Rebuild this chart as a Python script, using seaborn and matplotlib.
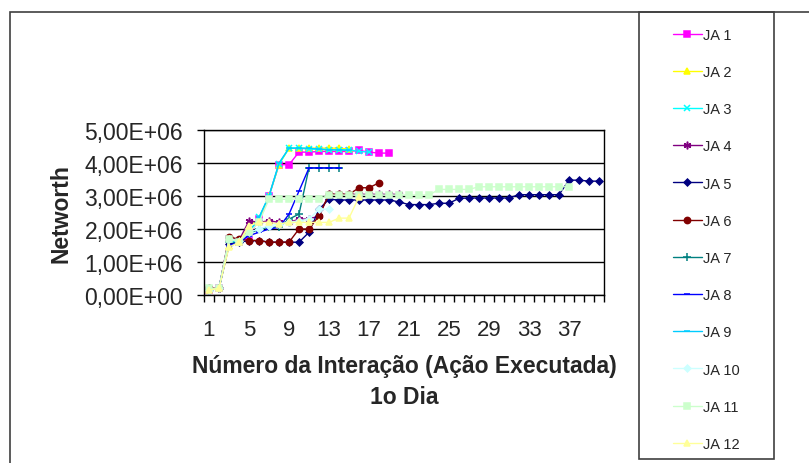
import matplotlib
matplotlib.use("Agg")
import matplotlib.pyplot as plt
import seaborn as sns
import numpy as np
from matplotlib.patches import Rectangle
from matplotlib.ticker import FuncFormatter, FixedLocator

# networth per iteration, in millions
ja1 = [0.15, 0.2, 1.7, 1.6, 1.8, 2.3, 3.0, 3.95, 3.95, 4.33, 4.33, 4.35, 4.35, 4.35,
       4.35, 4.38, 4.33, 4.3, 4.3]
ja2 = [0.15, 0.2, 1.5, 1.6, 2.1, 2.3, 3.0, 3.95, 4.45, 4.45, 4.45, 4.45, 4.45, 4.45, 4.42]
ja3 = [0.15, 0.2, 1.7, 1.65, 1.85, 2.35, 3.0, 3.97, 4.45, 4.45, 4.42, 4.42, 4.4, 4.4,
       4.4, 4.35, 4.33]
ja4 = [0.2, 0.2, 1.7, 1.65, 2.25, 2.2, 2.25, 2.2, 2.2, 2.3, 2.3, 2.4, 3.05, 3.05,
       3.05, 3.05, 3.05, 3.05, 3.05, 3.05]
ja5 = [0.15, 0.2, 1.55, 1.6, 1.65, 1.65, 1.6, 1.6, 1.6, 1.6, 1.9, 2.6,
       2.9, 2.88, 2.88, 2.88, 2.88, 2.88, 2.88,
       2.82, 2.74, 2.74, 2.74, 2.78, 2.78,
       2.93, 2.94, 2.94, 2.94, 2.94, 2.94,
       3.04, 3.04, 3.04, 3.04, 3.04,
       3.48, 3.48, 3.45, 3.45]
ja6 = [0.2, 0.2, 1.75, 1.7, 1.65, 1.65, 1.6, 1.6, 1.6, 2.0, 2.0, 2.4, 3.05, 3.05,
       3.05, 3.25, 3.25, 3.4]
ja7 = [0.15, 0.2, 1.6, 1.6, 1.85, 2.0, 2.05, 2.05, 2.3, 2.45, 3.85, 3.85, 3.85, 3.85]
ja8 = [0.15, 0.2, 1.5, 1.6, 1.8, 1.9, 2.0, 2.05, 2.45, 3.15, 3.85, 3.85, 3.85, 3.85]
ja9 = [0.15, 0.2, 1.6, 1.65, 1.9, 2.35, 3.0, 4.0, 4.45, 4.45, 4.45, 4.42, 4.4, 4.4, 4.38]
ja10 = [0.15, 0.2, 1.7, 1.65, 1.9, 2.0, 2.1, 2.15, 2.2, 2.25, 2.3, 2.6, 2.6]
ja11 = [0.2, 0.2, 1.7, 1.6, 1.9, 2.2, 2.9, 2.9, 2.9, 2.9, 2.9, 2.9,
        3.03, 3.03, 3.03, 3.03, 3.03, 3.03, 3.03, 3.03, 3.03, 3.03, 3.03,
        3.2, 3.2, 3.2, 3.2,
        3.28, 3.28, 3.28, 3.28, 3.28, 3.28, 3.28, 3.28, 3.28, 3.28]
ja12 = [0.15, 0.2, 1.45, 1.6, 2.1, 2.2, 2.2, 2.15, 2.2, 2.2, 2.2, 2.2, 2.2, 2.33,
        2.33, 2.97]

series_names = ["JA 1", "JA 2", "JA 3", "JA 4", "JA 5", "JA 6",
                "JA 7", "JA 8", "JA 9", "JA 10", "JA 11", "JA 12"]
series_values = [ja1, ja2, ja3, ja4, ja5, ja6, ja7, ja8, ja9, ja10, ja11, ja12]

# excel 2003 default look
colors = ["#FF00FF", "#FFFF00", "#00FFFF", "#800080", "#000080", "#800000",
          "#008080", "#0000FF", "#00CCFF", "#CCFFFF", "#CCFFCC", "#FFFF99"]
markers = ["s", "^", "x", (6, 2, 0), "D", "o", "+", "_", "_", "D", "s", "^"]
msizes = [4.5, 4.5, 4.5, 5.5, 3.5, 4.5, 5.5, 4.5, 4.5, 3.5, 4.5, 4.5]

n_cat = 40
x_labels = [1, 5, 9, 13, 17, 21, 25, 29, 33, 37]

sns.set_theme(style="white")
plt.rcParams["font.family"] = ["Liberation Sans", "DejaVu Sans"]

fig = plt.figure(figsize=(8.09, 4.64), dpi=100)
ax = fig.add_axes([204 / 809, 1 - 296 / 464, 400 / 809, 165 / 464])

for name, vals, c, m, ms in zip(series_names, series_values, colors, markers, msizes):
    xs = np.arange(1, len(vals) + 1)
    ys = np.array(vals) * 1e6
    sns.lineplot(x=xs, y=ys, ax=ax, color=c, marker=m, markersize=ms,
                 markeredgecolor=c, markeredgewidth=1.1, linewidth=1.0,
                 label=name, errorbar=None, sort=False)

ax.set_xlim(0.5, n_cat + 0.5)
ax.set_ylim(0, 5e6)
ax.set_yticks(np.arange(0, 5.01e6, 1e6))
ax.yaxis.set_major_formatter(FuncFormatter(lambda v, p: f"{v:.2E}".replace(".", ",")))
ax.xaxis.set_major_locator(FixedLocator(np.arange(0.5, n_cat + 1, 1)))
ax.xaxis.set_minor_locator(FixedLocator(x_labels))
ax.set_xticklabels([])
ax.xaxis.set_minor_formatter(FuncFormatter(lambda v, p: f"{int(v)}"))
ax.tick_params(axis="x", which="major", direction="out", length=5, width=1,
               color="black", bottom=True)
ax.tick_params(axis="x", which="minor", length=0, labelsize=16, pad=17,
               bottom=True)
ax.tick_params(axis="y", direction="out", length=5, width=1, color="black",
               labelsize=16.5, left=True, pad=10)
ax.grid(axis="y", color="black", linewidth=1)
ax.set_axisbelow(True)
for sp in ax.spines.values():
    sp.set_color("black")
    sp.set_linewidth(1)

ax.set_ylabel("Networth", fontsize=16.5, fontweight="bold", labelpad=9)
ax.set_xlabel("Número da Interação (Ação Executada)\n1o Dia", fontsize=16.5,
              fontweight="bold", labelpad=10, linespacing=1.45)

# chart border and legend box
fig.patches.append(Rectangle((10 / 809, -0.1), 1.2, (464 - 13) / 464 + 0.1,
                             transform=fig.transFigure, fill=False,
                             edgecolor="#404040", linewidth=1.2))
fig.patches.append(Rectangle((639 / 809, 1 - 460 / 464), 135 / 809, 447 / 464,
                             transform=fig.transFigure, fill=False,
                             edgecolor="#404040", linewidth=1.2))

leg = ax.legend(loc="upper left", bbox_to_anchor=(667 / 809, 1 - 23 / 464),
                bbox_transform=fig.transFigure, frameon=False, fontsize=10.5,
                handlelength=2.0, handletextpad=0.1, labelspacing=1.59,
                borderaxespad=0)

fig.savefig("out.png", dpi=100)
